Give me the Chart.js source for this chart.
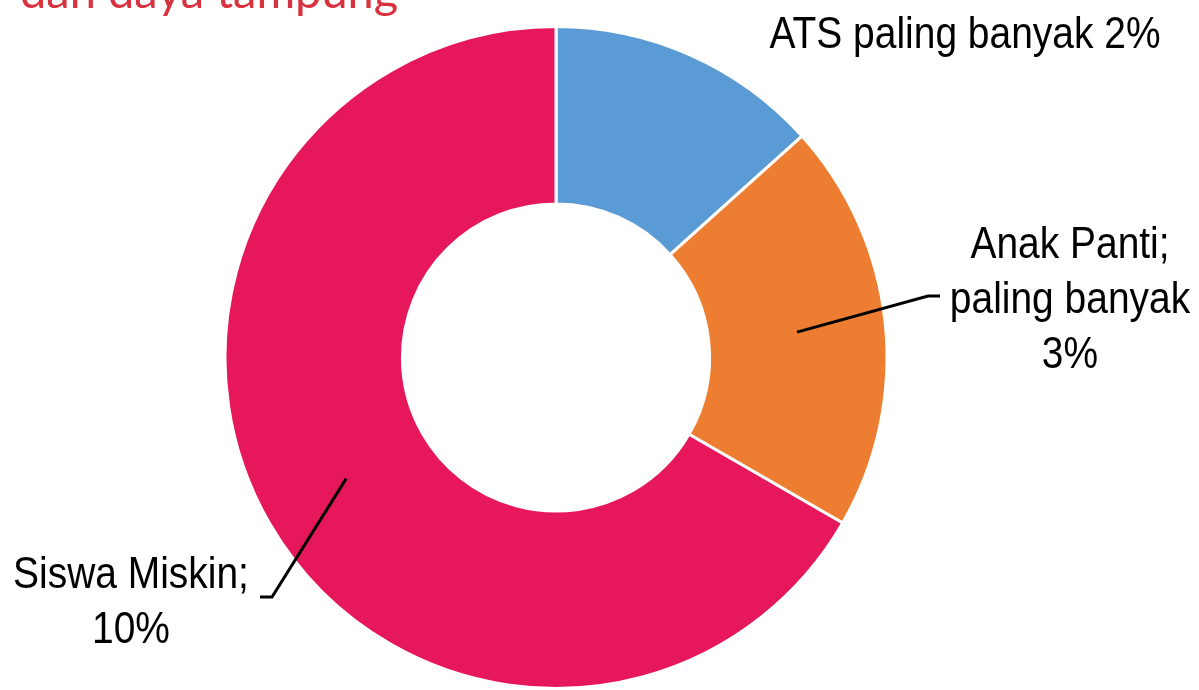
<!DOCTYPE html>
<html>
<head>
<meta charset="utf-8">
<script src="https://cdn.jsdelivr.net/npm/chart.js@4.4.1/dist/chart.umd.min.js"></script>
<style>
  html, body { margin: 0; padding: 0; background: #ffffff; }
  #wrap { position: relative; width: 1199px; height: 690px; overflow: hidden; }
  canvas { display: block; }
</style>
</head>
<body>
<div id="wrap"><canvas id="c" width="1199" height="690"></canvas></div>
<script>
const categories = ["ATS", "Anak Panti", "Siswa Miskin"];
const values = [2, 3, 10];
const labelLines = [
  ["ATS paling banyak 2%"],
  ["Anak Panti;", "paling banyak", "3%"],
  ["Siswa Miskin;", "10%"]
];
const colors = ["#5B9BD5", "#ED7D31", "#E6175B"];
const titleText = "dan daya tampung";

// label placement (text anchor, leader line elbow)
const labelPlacement = [
  { x: 965, y: 48, leader: null },
  { x: 1070, y: 258, leader: [[928, 296], [940, 296]] },
  { x: 131, y: 588, leader: [[272, 597], [260, 597]] }
];

const NARROW = 0.885;

const labelPlugin = {
  id: 'labelPlugin',
  afterDraw(chart) {
    const ctx = chart.ctx;
    ctx.save();
    // cut-off title
    ctx.fillStyle = '#D9323F';
    ctx.font = '47px Lato, "Noto Sans", sans-serif';
    ctx.textAlign = 'left';
    ctx.textBaseline = 'alphabetic';
    ctx.fillText(titleText, 20, 8);

    const meta = chart.getDatasetMeta(0);
    // leader lines
    labelLines.forEach((lines, i) => {
      const p = labelPlacement[i];
      if (p.leader) {
        const pos = meta.data[i].tooltipPosition();
        ctx.strokeStyle = '#000000';
        ctx.lineWidth = 3;
        ctx.beginPath();
        ctx.moveTo(pos.x, pos.y);
        p.leader.forEach(pt => ctx.lineTo(pt[0], pt[1]));
        ctx.stroke();
      }
    });
    // narrow text
    ctx.font = '44px "Liberation Sans", Arial, sans-serif';
    ctx.fillStyle = '#000000';
    ctx.textAlign = 'center';
    labelLines.forEach((lines, i) => {
      const p = labelPlacement[i];
      lines.forEach((t, k) => {
        ctx.save();
        ctx.translate(p.x, p.y + k * 55);
        ctx.scale(NARROW, 1);
        ctx.fillText(t, 0, 0);
        ctx.restore();
      });
    });
    ctx.restore();
  }
};

new Chart(document.getElementById('c'), {
  type: 'doughnut',
  data: {
    labels: categories,
    datasets: [{
      data: values,
      backgroundColor: colors,
      borderColor: '#ffffff',
      borderWidth: 3,
      hoverOffset: 0
    }]
  },
  options: {
    responsive: false,
    animation: false,
    cutout: '46.4%',
    layout: { padding: { top: 25, bottom: -2, left: 222, right: 309 } },
    plugins: {
      legend: { display: false },
      tooltip: { enabled: false },
      title: { display: false }
    }
  },
  plugins: [labelPlugin]
});
</script>
</body>
</html>
